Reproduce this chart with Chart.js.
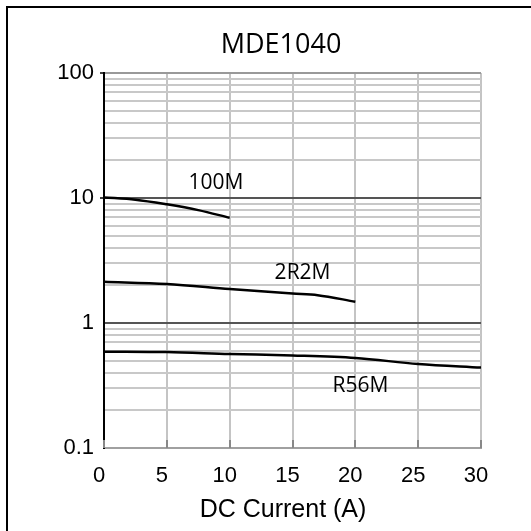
<!DOCTYPE html>
<html><head><meta charset="utf-8">
<script src="https://cdn.jsdelivr.net/npm/chart.js@4"></script>
<style>html,body{margin:0;padding:0;background:#fff}#wrap{width:531px;height:531px;position:relative}</style>
</head><body><div id="wrap"><canvas id="c" width="531" height="531"></canvas></div>
<script>
const chartTitle = "MDE1040";
const xAxisTitle = "DC Current (A)";
const seriesNames = ["100M", "2R2M", "R56M"];
const current100M = [0, 2.5, 5, 7.5, 10];
const induct100M = [10.1, 9.7, 8.9, 8.0, 6.95];
const current2R2M = [0, 5, 10, 15, 17, 20];
const induct2R2M = [2.14, 2.05, 1.87, 1.72, 1.67, 1.48];
const currentR56M = [0, 5, 10, 15, 20, 25, 30];
const inductR56M = [0.59, 0.585, 0.565, 0.55, 0.525, 0.47, 0.44];
const labelX = [8.9, 15.8, 20.4];
const labelY = [13.2, 2.5, 0.313];
const xTicks = [0, 5, 10, 15, 20, 25, 30];
const yGrid = [0.1,0.2,0.3,0.4,0.5,0.6,0.7,0.8,0.9,1,2,3,4,5,6,7,8,9,10,20,30,40,50,60,70,80,90,100];
const yLabels = [0.1, 1, 10, 100];

function pts(xs, ys) { return xs.map((x, i) => ({x: x, y: ys[i]})); }
const seriesData = [pts(current100M, induct100M), pts(current2R2M, induct2R2M), pts(currentR56M, inductR56M)];

const deco = {
  id: 'deco',
  afterDraw(chart) {
    const ctx = chart.ctx, xs = chart.scales.x, ys = chart.scales.y, ca = chart.chartArea;
    ctx.save();
    ctx.strokeStyle = '#000'; ctx.lineWidth = 2;
    ctx.beginPath(); ctx.moveTo(7, 540); ctx.lineTo(7, 7); ctx.lineTo(540, 7); ctx.stroke();
    ctx.strokeStyle = '#888'; ctx.lineWidth = 2;
    xTicks.forEach(v => {
      const px = Math.round(xs.getPixelForValue(v));
      ctx.beginPath(); ctx.moveTo(px, ca.bottom); ctx.lineTo(px, ca.bottom - 8); ctx.stroke();
    });
    ctx.strokeStyle = '#000'; ctx.lineWidth = 1.5;
    [10, 100].forEach(v => {
      const py = ys.getPixelForValue(v);
      ctx.beginPath(); ctx.moveTo(ca.left - 4, py); ctx.lineTo(ca.left, py); ctx.stroke();
    });
    ctx.fillStyle = '#000';
    ctx.textAlign = 'center'; ctx.textBaseline = 'middle';
    ctx.font = '27px "Open Sans"';
    ctx.fillText(chartTitle, 281, 45);
    ctx.font = '25px "Liberation Sans"';
    ctx.fillText(xAxisTitle, 283, 510);
    ctx.font = '21px "Open Sans"';
    seriesNames.forEach((n, i) => {
      ctx.fillText(n, xs.getPixelForValue(labelX[i]), ys.getPixelForValue(labelY[i]));
    });
    ctx.restore();
  }
};

new Chart(document.getElementById('c'), {
  type: 'scatter',
  data: {
    datasets: seriesData.map((d, i) => ({
      label: seriesNames[i], data: d, showLine: true, borderColor: '#000', backgroundColor: '#000',
      borderWidth: 2.5, pointRadius: 0, cubicInterpolationMode: 'monotone'
    }))
  },
  options: {
    responsive: false, animation: false, devicePixelRatio: 1,
    layout: {padding: {left: 0, top: 73, right: 50, bottom: 0}},
    plugins: {legend: {display: false}, title: {display: false}, tooltip: {enabled: false}},
    scales: {
      x: {
        type: 'linear', min: 0, max: 30,
        afterBuildTicks: s => { s.ticks = xTicks.map(v => ({value: v})); },
        afterFit: s => { s.height = 83; },
        ticks: {font: {family: 'Liberation Sans', size: 22}, color: '#000', padding: 15, labelOffset: -5, maxRotation: 0, autoSkip: false},
        grid: {color: '#c4c4c4', lineWidth: 2, drawTicks: false},
        border: {color: '#a0a0a0', width: 2}
      },
      y: {
        type: 'logarithmic', min: 0.1, max: 100,
        afterBuildTicks: s => { s.ticks = yGrid.map(v => ({value: v})); },
        afterFit: s => { s.width = 104; },
        ticks: {font: {family: 'Liberation Sans', size: 22}, color: '#000', padding: 10, autoSkip: false,
          callback: v => yLabels.includes(v) ? String(v) : ''},
        grid: {
          lineWidth: 2, drawTicks: false,
          color: c => (c.tick && (c.tick.value === 1 || c.tick.value === 10)) ? '#555' : (c.tick && c.tick.value === 100 ? '#999' : '#c8c8c8')
        },
        border: {color: '#000', width: 2}
      }
    }
  },
  plugins: [deco]
});
</script></body></html>
